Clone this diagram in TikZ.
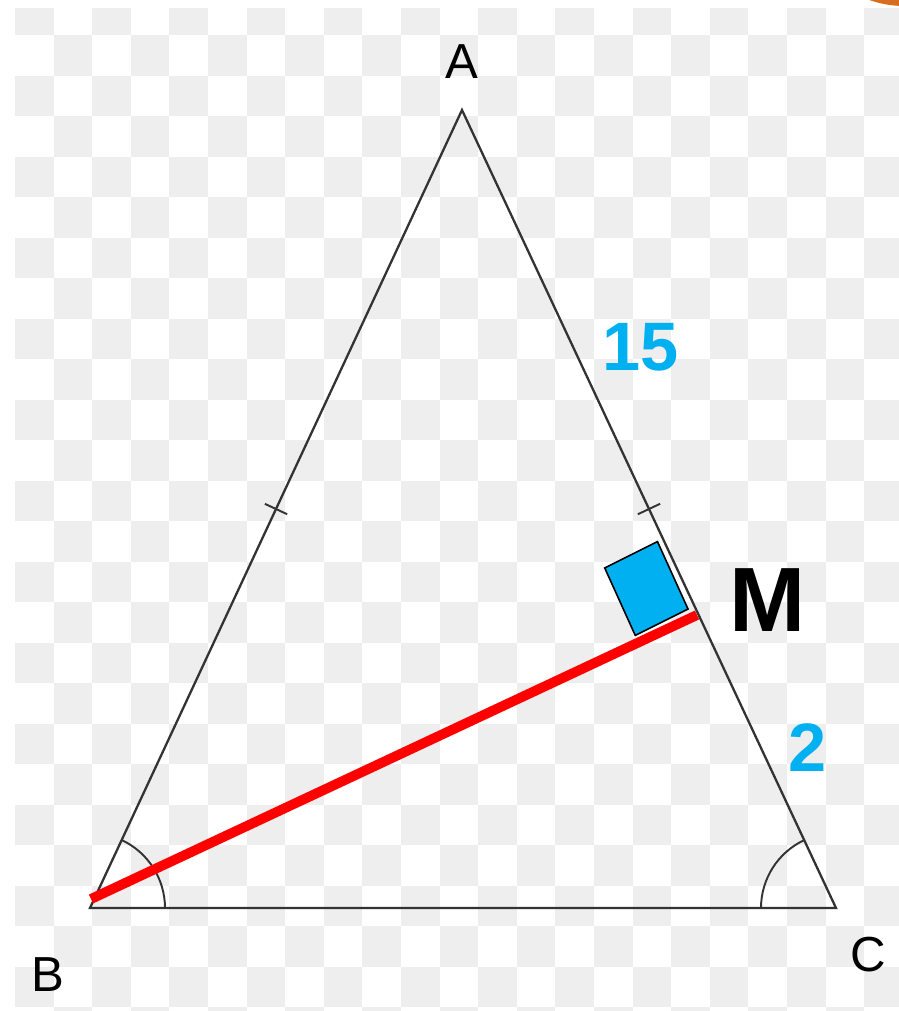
\documentclass[tikz,border=0pt]{standalone}
\usepackage{fontspec}
\setmainfont{Liberation Sans}
\usetikzlibrary{calc}
\definecolor{tri-grey}{RGB}{51,51,51}
\definecolor{side-cyan}{RGB}{0,176,240}
\definecolor{check-grey}{RGB}{238,238,238}
\definecolor{blob-orange}{RGB}{214,110,30}

\begin{document}
\begin{tikzpicture}[x=0.02cm, y=-0.02cm]
  \useasboundingbox (0,0) rectangle (899,1011);
  \fill[white] (0,0) rectangle (899,1011);

  % checker background
  \begin{scope}
    \clip (15,8) rectangle (899,1011);
    \foreach \i in {0,...,22} {
      \foreach \j in {0,...,25} {
        \pgfmathtruncatemacro{\k}{mod(\i+\j,2)}
        \ifnum\k=0
          \fill[check-grey] (15+38.6*\i,-5.5+40.5*\j) rectangle ++(38.6,40.5);
        \fi
      }
    }
  \end{scope}

  % orange corner
  \begin{scope}
    \clip (0,0) rectangle (899,1011);
    \fill[blob-orange] (905,-40) ellipse[x radius=72, y radius=46];
  \end{scope}

  % vertices
  \coordinate (A) at (462,110);
  \coordinate (B) at (90,908);
  \coordinate (C) at (836,908);
  \coordinate (M) at (697,615);
  \coordinate (Bh) at (91,899);
  \coordinate (mAB) at ($(A)!0.5!(B)$);
  \coordinate (mAC) at ($(A)!0.5!(C)$);

  % triangle
  \draw[tri-grey, line width=1.3pt, line join=miter] (A) -- (B) -- (C) -- cycle;

  % equal sides
  \draw[tri-grey, line width=1.1pt] ($(mAB)!7pt!90:(B)$) -- ($(mAB)!7pt!-90:(B)$);
  \draw[tri-grey, line width=1.1pt] ($(mAC)!7pt!90:(C)$) -- ($(mAC)!7pt!-90:(C)$);

  % base angles
  \draw[tri-grey, line width=1.1pt] ([shift={(0:1.5cm)}]B) arc[start angle=0, end angle=65, radius=1.5cm];
  \draw[tri-grey, line width=1.1pt] ([shift={(180:1.5cm)}]C) arc[start angle=180, end angle=115, radius=1.5cm];

  % right angle at M
  \coordinate (S0) at (688,609);
  \coordinate (S1) at ($(S0)!1.48cm!(A)$);
  \coordinate (S3) at ($(S0)!1.18cm!(B)$);
  \draw[black, line width=0.9pt, fill=side-cyan] (S0) -- (S1) -- ($(S1)+(S3)-(S0)$) -- (S3) -- cycle;

  % height from B
  \draw[red, line width=5.6pt] (Bh) -- (M);

  % labels
  \node[font=\fontsize{28}{28}\selectfont, text=black] (labA) at (462,62) {A};
  \node[font=\fontsize{28}{28}\selectfont, text=black] (labB) at (48,975) {B};
  \node[font=\fontsize{28}{28}\selectfont, text=black] (labC) at (868,955) {C};
  \node[font=\fontsize{52}{52}\selectfont\bfseries, text=black] (labM) at (768,600) {M};
  \node[font=\fontsize{39}{39}\selectfont\bfseries, text=side-cyan] (labAM) at (641,347) {15};
  \node[font=\fontsize{39}{39}\selectfont\bfseries, text=side-cyan] (labMC) at (808,748) {2};
\end{tikzpicture}
\end{document}
